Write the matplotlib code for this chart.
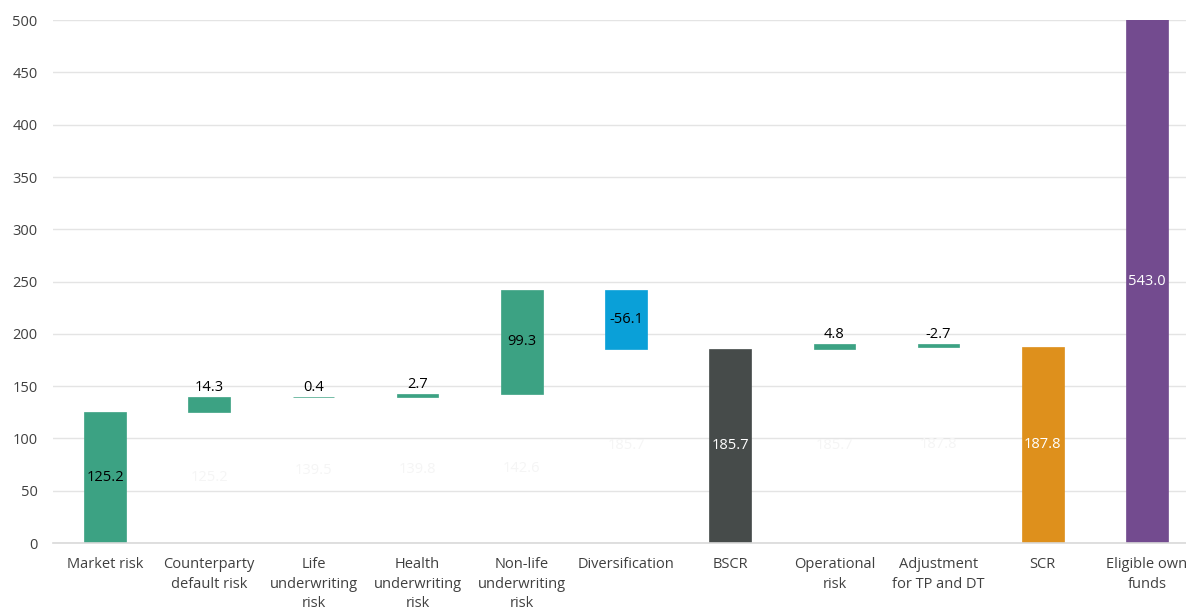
import matplotlib.pyplot as plt

categories = ["Market risk", "Counterparty\ndefault risk", "Life\nunderwriting\nrisk",
              "Health\nunderwriting\nrisk", "Non-life\nunderwriting\nrisk", "Diversification",
              "BSCR", "Operational\nrisk", "Adjustment\nfor TP and DT", "SCR",
              "Eligible own\nfunds"]
values = [125.2, 14.3, 0.4, 2.7, 99.3, -56.1, 185.7, 4.8, -2.7, 187.8, 543.0]
# bottom of each visible bar (running total), labelled in white on the hidden base
bases = [0, 125.2, 139.5, 139.8, 142.6, 185.7, 0, 185.7, 187.8, 0, 0]
base_labels = [None, 125.2, 139.5, 139.8, 142.6, 185.7, None, 185.7, 187.8, None, None]

colors = ["#3ca283"] * 5 + ["#0aa0d8", "#464b4a", "#3ca283", "#3ca283", "#de901c", "#734b8f"]
label_colors = ["black"] * 6 + ["white", "black", "black", "white", "white"]

plt.rcParams['font.family'] = ['Open Sans', 'DejaVu Sans']

fig = plt.figure(figsize=(11.86, 6.12), dpi=100)
ax = fig.add_axes([0.0447, 0.1127, 0.9663, 0.8543])

ymax = 500
x = list(range(len(categories)))
heights = [abs(v) for v in values]

ax.bar(x, heights, bottom=bases, width=0.4, color=colors, edgecolor=colors,
       linewidth=0.5, zorder=3)

for i, (b, h, v) in enumerate(zip(bases, heights, values)):
    if h < 20:
        ax.text(i, b + h + 2, f"{v:.1f}", ha="center", va="bottom", fontsize=10.5,
                color=label_colors[i], zorder=4)
    else:
        # centre of the visible part of the bar
        mid = (b + min(b + h, ymax)) / 2
        ax.text(i, mid, f"{v:.1f}", ha="center", va="center", fontsize=10.5,
                color=label_colors[i], zorder=4)

for i, bl in enumerate(base_labels):
    if bl is not None:
        ax.text(i, bl / 2, f"{bl:.1f}", ha="center", va="center", fontsize=10.5,
                color="#f5f5f5", zorder=4)

ax.set_xlim(-0.5, len(categories) - 0.5)
ax.set_ylim(0, ymax)
ax.set_yticks(range(0, 501, 50))
ax.set_xticks(x)
ax.set_xticklabels(categories, fontsize=10.5, color="#404040", linespacing=1.42)
ax.tick_params(axis="y", labelsize=10.5, labelcolor="#404040", length=0, pad=11)
ax.tick_params(axis="x", length=0, pad=10)
ax.grid(axis="y", color="#e4e4e4", linewidth=1, zorder=0)
for s in ["top", "right", "left"]:
    ax.spines[s].set_visible(False)
ax.spines["bottom"].set_color("#d9d9d9")
ax.spines["bottom"].set_linewidth(1.2)
ax.spines["bottom"].set_zorder(5)

plt.savefig("out.png", dpi=100)
